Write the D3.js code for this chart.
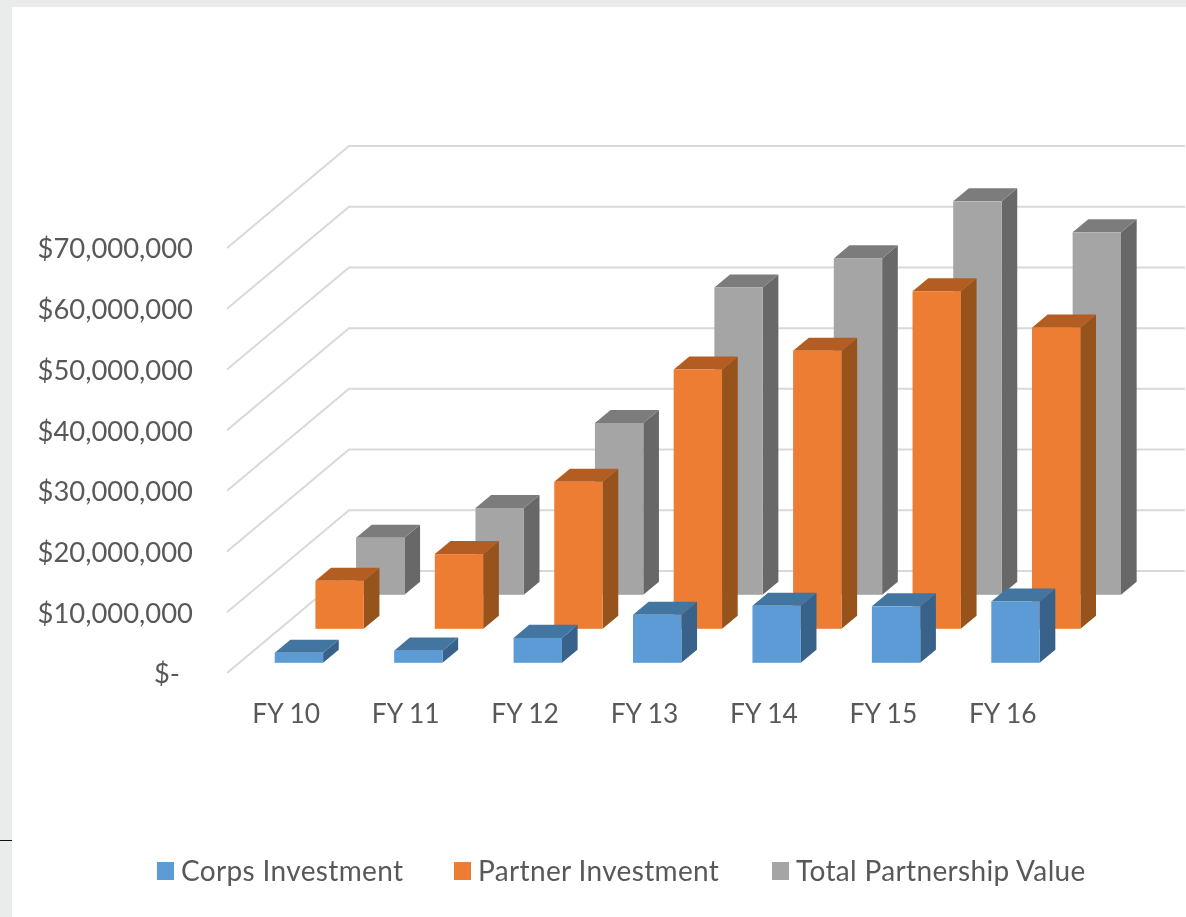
<!DOCTYPE html>
<html>
<head>
<meta charset="utf-8">
<script src="https://cdn.jsdelivr.net/npm/d3@7"></script>
<style>
  html, body { margin: 0; padding: 0; background: #e9ecea; overflow: hidden; }
  text { font-family: Lato, "Open Sans", sans-serif; fill: #595959; }
</style>
</head>
<body>
<div id="chart"></div>
<script>
// Data
const categories = ["FY 10", "FY 11", "FY 12", "FY 13", "FY 14", "FY 15", "FY 16"];
const seriesNames = ["Corps Investment", "Partner Investment", "Total Partnership Value"];
const corps = [1650000, 2000000, 4100000, 7900000, 9400000, 9300000, 10100000];
const partner = [7900000, 12300000, 24200000, 42700000, 45800000, 55600000, 49600000];
const total = [9400000, 14300000, 28300000, 50600000, 55400000, 64800000, 59700000];
const yTicks = [0, 10000000, 20000000, 30000000, 40000000, 50000000, 60000000, 70000000];

const W = 1186, H = 917;

const colors = [
  { front: "#5b9bd5", top: "#4374a0", side: "#37628a" },
  { front: "#ed7d31", top: "#b45d20", side: "#97521b" },
  { front: "#a5a5a5", top: "#7c7c7c", side: "#686868" }
];

const svg = d3.select("#chart").append("svg")
    .attr("width", W)
    .attr("height", H)
    .style("display", "block");

svg.append("defs").append("filter")
    .attr("id", "soft")
    .attr("x", "-5%").attr("y", "-5%").attr("width", "110%").attr("height", "110%")
  .append("feGaussianBlur")
    .attr("stdDeviation", 0.7);

// White panel over the grey page
svg.append("rect")
    .attr("x", 12).attr("y", 7)
    .attr("width", W - 12).attr("height", H - 7)
    .attr("fill", "#fff");

// Short black rule on the left edge
svg.append("rect")
    .attr("x", 0).attr("y", 840)
    .attr("width", 12).attr("height", 1)
    .attr("fill", "#111");

const g = svg.append("g").attr("filter", "url(#soft)");

// Scales
const x = d3.scaleBand()
    .domain(categories)
    .range([227, 1063])
    .paddingInner(0.595)
    .paddingOuter(0.2975);

const y = d3.scaleLinear()
    .domain([0, 70000000])
    .range([673, 248]);

// depth axis: 0 = front of the floor, 3 = back wall (one unit per series)
const depthX = d3.scaleLinear().domain([0, 3]).range([0, 122]);
const depthY = d3.scaleLinear().domain([0, 3]).range([0, -102]);

// Gridlines: along the left wall, then along the back wall
const line = d3.line();
g.append("g").selectAll("path")
  .data(yTicks)
  .enter()
  .append("path")
    .attr("fill", "none")
    .attr("stroke", "#d9d9d9")
    .attr("stroke-width", 2)
    .attr("d", d => line([
      [x.range()[0], y(d)],
      [x.range()[0] + depthX(3), y(d) + depthY(3)],
      [x.range()[1] + depthX(3), y(d) + depthY(3)]
    ]));

// Bars, back series first
const barDepth = 0.385;
const seriesValues = [corps, partner, total];

d3.range(2, -1, -1).forEach(s => {
  const d0 = s + 0.3;
  const bars = g.append("g").selectAll("g")
    .data(categories.map((c, i) => ({ c, v: seriesValues[s][i] })))
    .enter()
    .append("g");

  const x0 = d => x(d.c) + depthX(d0);
  const x1 = d => x0(d) + x.bandwidth();
  const top = d => y(d.v) + depthY(d0);
  const base = () => y(0) + depthY(d0);
  const ox = depthX(barDepth), oy = depthY(barDepth);

  bars.append("polygon")
      .attr("fill", colors[s].side)
      .attr("points", d => [
        [x1(d), top(d)], [x1(d) + ox, top(d) + oy],
        [x1(d) + ox, base() + oy], [x1(d), base()]
      ].join(" "));

  bars.append("polygon")
      .attr("fill", colors[s].top)
      .attr("points", d => [
        [x0(d), top(d)], [x0(d) + ox, top(d) + oy],
        [x1(d) + ox, top(d) + oy], [x1(d), top(d)]
      ].join(" "));

  bars.append("rect")
      .attr("fill", colors[s].front)
      .attr("x", x0)
      .attr("y", top)
      .attr("width", x.bandwidth())
      .attr("height", d => base() - top(d));
});

// Y axis labels
const yAxis = g.append("g")
    .attr("transform", "translate(193,0)")
    .call(d3.axisLeft(y)
      .tickValues(yTicks)
      .tickSize(0)
      .tickPadding(0)
      .tickFormat(d => d === 0 ? "$-" : "$" + d3.format(",")(d)));
yAxis.select(".domain").remove();
yAxis.selectAll("text")
    .attr("font-family", null)
    .style("font-size", "27.4px")
    .attr("dy", "0.36em")
    .attr("dx", d => d === 0 ? -13 : 0);

// X axis labels
const xAxis = g.append("g")
    .attr("transform", "translate(-0.5,704)")
    .call(d3.axisBottom(x).tickSize(0).tickPadding(0));
xAxis.select(".domain").remove();
xAxis.selectAll("text")
    .attr("font-family", null)
    .style("font-size", "26.4px")
    .attr("y", 0)
    .attr("dy", "0.72em");

// Legend
const legendX = d3.scaleOrdinal().domain(seriesNames).range([157, 454, 772]);
const legend = g.append("g").selectAll("g")
  .data(seriesNames)
  .enter()
  .append("g")
    .attr("transform", d => `translate(${legendX(d)},862)`);

legend.append("rect")
    .attr("width", 17)
    .attr("height", 18)
    .attr("fill", (d, i) => colors[i].front);

legend.append("text")
    .attr("x", 24)
    .attr("y", 9)
    .attr("dy", "0.34em")
    .style("font-size", "28px")
    .style("letter-spacing", "0.35px")
    .text(d => d);
</script>
</body>
</html>
